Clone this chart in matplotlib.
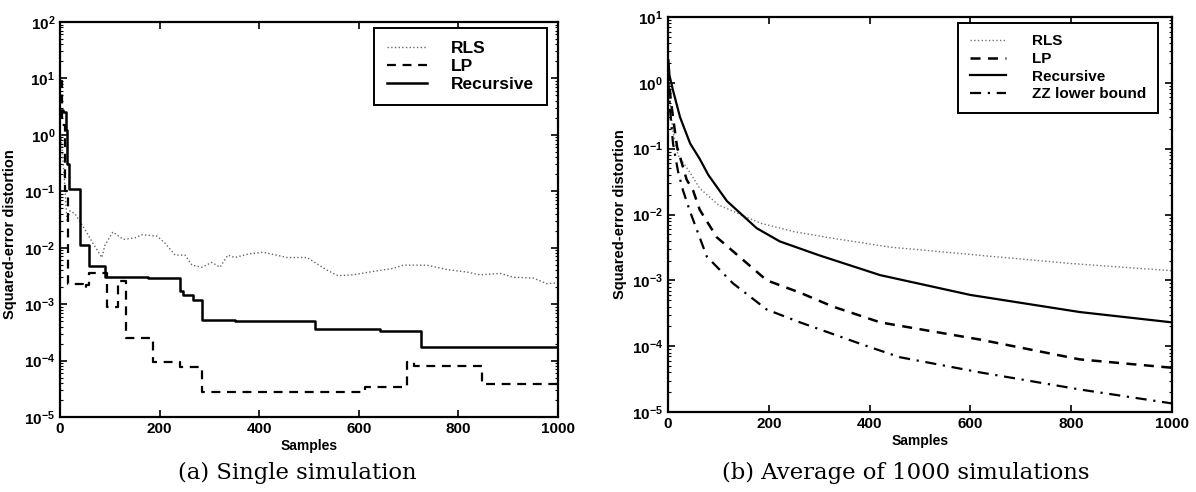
import numpy as np
import matplotlib.pyplot as plt

plt.rcParams['font.family'] = ['Liberation Sans', 'DejaVu Sans']
plt.rcParams['font.weight'] = 'bold'
plt.rcParams['axes.labelweight'] = 'bold'
plt.rcParams['mathtext.fontset'] = 'custom'
plt.rcParams['mathtext.rm'] = 'Liberation Sans:bold'
plt.rcParams['mathtext.it'] = 'Liberation Sans:bold'
plt.rcParams['mathtext.bf'] = 'Liberation Sans:bold'

# (a) single simulation -- step curves (sample where value starts, value)
rec_a_x = [0, 6, 12, 14, 17, 40, 58, 90, 177, 241, 247, 267, 285, 351, 512, 643, 725, 1000]
rec_a_y = [2.7, 2.5, 1.2, 0.3, 0.11, 1.1e-2, 4.7e-3, 3.0e-3, 2.9e-3, 1.7e-3, 1.45e-3, 1.18e-3,
           5.2e-4, 5.0e-4, 3.6e-4, 3.3e-4, 1.75e-4, 1.75e-4]

lp_a_x = [0, 4, 10, 16, 46, 52, 58, 94, 116, 132, 187, 241, 285, 612, 697, 710, 847, 1000]
lp_a_y = [9.0, 1.5, 0.1, 2.3e-3, 1.9e-3, 2.2e-3, 3.5e-3, 8.9e-4, 2.6e-3, 2.5e-4, 9.3e-5, 7.6e-5,
          2.8e-5, 3.4e-5, 9.5e-5, 8.0e-5, 3.8e-5, 3.8e-5]

rls_a_x = [2, 8, 14, 20, 30, 50, 66, 84, 90, 106, 127, 151, 165, 195, 211, 231, 251, 265, 285,
           305, 321, 337, 351, 380, 408, 456, 496, 536, 558, 588, 629, 669, 689, 737, 777, 817,
           843, 884, 910, 950, 978, 1000]
rls_a_y = [1.0, 0.2, 0.03, 0.045, 0.04, 0.021, 0.012, 6.7e-3, 0.011, 0.019, 0.014, 0.015, 0.017,
           0.016, 0.012, 7.4e-3, 7.4e-3, 4.9e-3, 4.5e-3, 5.5e-3, 4.5e-3, 7.4e-3, 6.7e-3, 7.8e-3,
           8.3e-3, 6.7e-3, 6.7e-3, 4.0e-3, 3.2e-3, 3.3e-3, 3.8e-3, 4.3e-3, 4.9e-3, 4.9e-3, 4.1e-3,
           3.7e-3, 3.3e-3, 3.5e-3, 3.0e-3, 2.9e-3, 2.3e-3, 2.4e-3]

# (b) average of 1000 simulations
rls_b_x = [1, 5, 10, 20, 44, 63, 100, 183, 250, 315, 440, 619, 800, 1000]
rls_b_y = [1.0, 0.4, 0.18, 0.08, 0.043, 0.025, 0.014, 7.4e-3, 5.5e-3, 4.5e-3, 3.2e-3, 2.4e-3,
           1.8e-3, 1.4e-3]

rec_b_x = [1, 3, 10, 24, 44, 63, 80, 117, 176, 222, 300, 421, 600, 817, 1000]
rec_b_y = [2.2, 1.3, 0.77, 0.3, 0.12, 0.07, 0.04, 0.016, 6.2e-3, 3.9e-3, 2.4e-3, 1.2e-3,
           6.0e-4, 3.3e-4, 2.3e-4]

lp_b_x = [1, 5, 10, 18, 37, 50, 63, 97, 196, 262, 327, 421, 619, 817, 1000]
lp_b_y = [1.5, 0.6, 0.3, 0.107, 0.034, 0.023, 0.0118, 4.5e-3, 1.0e-3, 6.5e-4, 4.0e-4, 2.3e-4,
          1.26e-4, 6.3e-5, 4.7e-5]

zz_b_x = [1, 4, 10, 20, 30, 44, 77, 129, 196, 262, 395, 460, 619, 817, 1000]
zz_b_y = [1.0, 0.4, 0.12, 0.045, 0.023, 0.011, 2.3e-3, 9.0e-4, 3.6e-4, 2.3e-4, 1.0e-4, 6.8e-5,
          4.0e-5, 2.2e-5, 1.35e-5]

xticks = [0, 200, 400, 600, 800, 1000]


def style_axes(ax, ylim):
    ax.set_yscale('log')
    ax.set_xlim(0, 1000)
    ax.set_ylim(*ylim)
    ax.set_xticks(xticks)
    ax.tick_params(which='both', direction='in', top=True, right=True, labelsize=11)
    ax.tick_params(which='major', length=5, width=1.2)
    ax.tick_params(which='minor', length=2.5, width=0.8)
    for s in ax.spines.values():
        s.set_linewidth(1.6)
    ax.set_xlabel('Samples', fontsize=10, labelpad=2)
    ax.set_ylabel('Squared-error distortion', fontsize=10.5)


fig = plt.figure(figsize=(11.96, 4.92), dpi=100)
ax1 = fig.add_axes([0.0502, 0.1524, 0.4164, 0.803])
ax2 = fig.add_axes([0.5585, 0.1626, 0.4214, 0.8028])

# panel (a)
ax1.plot(rls_a_x, rls_a_y, ':', color='0.4', lw=1.0, label='RLS')
ax1.step(lp_a_x, lp_a_y, where='post', ls=(0, (4, 3)), color='k', lw=1.6, label='LP')
ax1.step(rec_a_x, rec_a_y, where='post', ls='-', color='k', lw=1.8, label='Recursive')
style_axes(ax1, (1e-5, 1e2))
ax1.yaxis.set_label_coords(-0.086, 0.463)
leg1 = ax1.legend(loc='upper right', bbox_to_anchor=(0.978, 0.985), borderaxespad=0,
                  fontsize=12.5, handlelength=2.3, handletextpad=1.4,
                  labelspacing=0.16, borderpad=0.75, fancybox=False, edgecolor='k',
                  framealpha=1)
leg1.get_frame().set_linewidth(1.4)

# panel (b)
ax2.plot(rls_b_x, rls_b_y, ':', color='0.45', lw=1.0, label='RLS')
ax2.plot(lp_b_x, lp_b_y, ls=(0, (4, 3)), color='k', lw=1.8, label='LP')
ax2.plot(rec_b_x, rec_b_y, ls='-', color='k', lw=1.6, label='Recursive')
ax2.plot(zz_b_x, zz_b_y, ls=(0, (5, 3, 1, 3)), color='k', lw=1.6, label='ZZ lower bound')
style_axes(ax2, (1e-5, 1e1))
ax2.yaxis.set_label_coords(-0.081, 0.5)
leg2 = ax2.legend(loc='upper right', bbox_to_anchor=(0.972, 0.985), borderaxespad=0,
                  fontsize=11, handlelength=2.4, handletextpad=1.7,
                  labelspacing=0.24, borderpad=0.75, fancybox=False, edgecolor='k',
                  framealpha=1)
leg2.get_frame().set_linewidth(1.4)

fig.text(0.249, 0.039, '(a) Single simulation', family='DejaVu Serif', weight='normal',
         fontsize=16.4, ha='center', va='center')
fig.text(0.757, 0.039, '(b) Average of 1000 simulations', family='DejaVu Serif',
         weight='normal', fontsize=16.4, ha='center', va='center')

fig.savefig('out.png', dpi=100)
